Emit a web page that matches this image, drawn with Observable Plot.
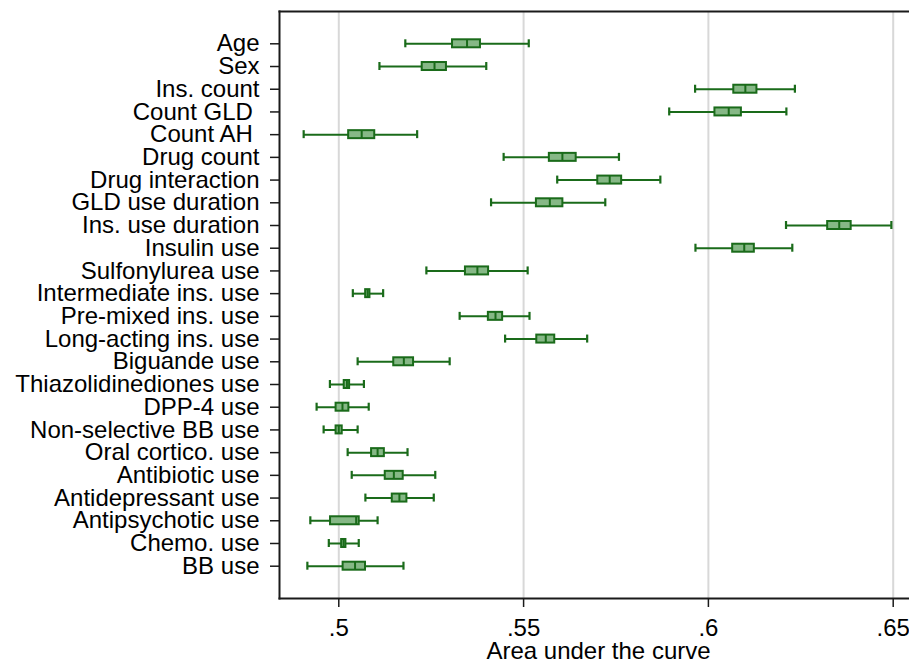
<!DOCTYPE html>
<html>
<head>
<meta charset="utf-8">
<script src="https://cdn.jsdelivr.net/npm/d3@7"></script>
<script src="https://cdn.jsdelivr.net/npm/@observablehq/plot@0.6"></script>
<style>
  html, body { margin: 0; padding: 0; background: #fff; }
</style>
</head>
<body>
<div id="chart"></div>
<script>
const categories = ["Age", "Sex", "Ins. count", "Count GLD ", "Count AH ", "Drug count", "Drug interaction",
  "GLD use duration", "Ins. use duration", "Insulin use", "Sulfonylurea use", "Intermediate ins. use",
  "Pre-mixed ins. use", "Long-acting ins. use", "Biguande use", "Thiazolidinediones use", "DPP-4 use",
  "Non-selective BB use", "Oral cortico. use", "Antibiotic use", "Antidepressant use", "Antipsychotic use",
  "Chemo. use", "BB use"];
const lower  = [0.5180, 0.5110, 0.5964, 0.5894, 0.4905, 0.5446, 0.5591, 0.5412, 0.6210, 0.5965, 0.5237, 0.5038,
  0.5327, 0.5450, 0.5051, 0.4976, 0.4940, 0.4959, 0.5024, 0.5035, 0.5072, 0.4923, 0.4973, 0.4915];
const q1     = [0.5305, 0.5223, 0.6066, 0.6015, 0.5024, 0.5567, 0.5698, 0.5532, 0.6320, 0.6063, 0.5340, 0.5070,
  0.5402, 0.5533, 0.5146, 0.5012, 0.4990, 0.4990, 0.5086, 0.5123, 0.5142, 0.4975, 0.5005, 0.5009];
const median = [0.5347, 0.5259, 0.6100, 0.6055, 0.5062, 0.5605, 0.5733, 0.5571, 0.6354, 0.6097, 0.5375, 0.5078,
  0.5424, 0.5560, 0.5176, 0.5022, 0.5010, 0.5000, 0.5105, 0.5149, 0.5164, 0.5047, 0.5013, 0.5044];
const q3     = [0.5386, 0.5294, 0.6134, 0.6092, 0.5100, 0.5645, 0.5768, 0.5609, 0.6389, 0.6127, 0.5408, 0.5087,
  0.5446, 0.5587, 0.5205, 0.5032, 0.5030, 0.5012, 0.5126, 0.5177, 0.5187, 0.5058, 0.5022, 0.5075];
const upper  = [0.5514, 0.5399, 0.6234, 0.6211, 0.5212, 0.5758, 0.5870, 0.5721, 0.6495, 0.6227, 0.5511, 0.5120,
  0.5516, 0.5672, 0.5300, 0.5068, 0.5081, 0.5051, 0.5186, 0.5261, 0.5257, 0.5105, 0.5054, 0.5175];
const xTicks = [0.5, 0.55, 0.6, 0.65];
const xTickLabels = [".5", ".55", ".6", ".65"];
const xTitle = "Area under the curve";

const rows = categories.map((c, i) => ({cat: c, lo: lower[i], q1: q1[i], med: median[i], q3: q3[i], hi: upper[i]}));

const dark = "#1a6b1a";
const fillC = "#86b886";
const font = "'Liberation Sans', Arial, Helvetica, sans-serif";

const chart = Plot.plot({
  width: 909,
  height: 663,
  marginLeft: 279,
  marginRight: 0,
  marginTop: 11,
  marginBottom: 65,
  style: {fontFamily: font, fontSize: "24px", color: "#000", background: "#fff"},
  x: {domain: [0.48396, 0.65441]},
  y: {type: "band", domain: categories, paddingInner: 0.648, paddingOuter: 1.246, round: false},
  marks: [
    Plot.gridX(xTicks, {stroke: "#d8d8d8", strokeOpacity: 1, strokeWidth: 2}),
    Plot.ruleY(rows, {y: "cat", x1: "lo", x2: "hi", stroke: dark, strokeWidth: 2}),
    Plot.tickX(rows, {x: "lo", y: "cat", stroke: dark, strokeWidth: 2.2}),
    Plot.tickX(rows, {x: "hi", y: "cat", stroke: dark, strokeWidth: 2.2}),
    Plot.barX(rows, {y: "cat", x1: "q1", x2: "q3", fill: fillC, stroke: dark, strokeWidth: 2, insetLeft: 1, insetRight: 1}),
    Plot.tickX(rows, {x: "med", y: "cat", stroke: dark, strokeWidth: 2}),
    Plot.frame({anchor: "left", stroke: "#1a1a1a", strokeWidth: 2}),
    Plot.frame({anchor: "top", stroke: "#1a1a1a", strokeWidth: 2}),
    Plot.frame({anchor: "bottom", stroke: "#1a1a1a", strokeWidth: 2}),
    Plot.axisY({tickSize: 9, tickPadding: 11, label: null, fontSize: 24,
      tickFormat: d => d.replace(/ $/, "\u00a0"), stroke: "#1a1a1a", strokeWidth: 1.5}),
    Plot.axisX(xTicks, {tickSize: 9, tickPadding: 11, label: null, fontSize: 24,
      tickFormat: d => xTickLabels[xTicks.indexOf(d)], stroke: "#1a1a1a", strokeWidth: 1.5}),
    Plot.text([xTitle], {frameAnchor: "bottom", lineAnchor: "middle", dy: 53, dx: 4, fontSize: 24, fill: "#000"})
  ]
});
document.getElementById("chart").appendChild(chart);
</script>
</body>
</html>
